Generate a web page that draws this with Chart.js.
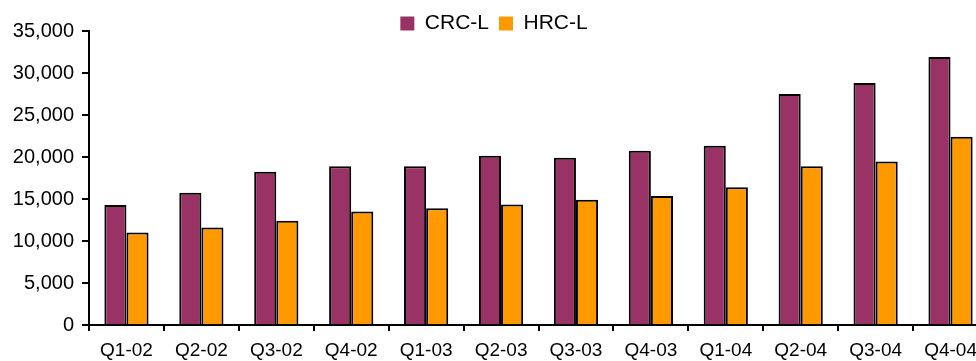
<!DOCTYPE html>
<html>
<head>
<meta charset="utf-8">
<script src="https://cdn.jsdelivr.net/npm/chart.js@4/dist/chart.umd.min.js"></script>
<style>
  html, body { margin: 0; padding: 0; background: #ffffff; overflow: hidden; }
  #wrap { position: relative; width: 1000px; height: 361px; }
</style>
</head>
<body>
<div id="wrap"><canvas id="c"></canvas></div>
<script>
const categories = ["Q1-02","Q2-02","Q3-02","Q4-02","Q1-03","Q2-03","Q3-03","Q4-03","Q1-04","Q2-04","Q3-04","Q4-04"];
const crcL = [14300, 15750, 18250, 18900, 18900, 20150, 19900, 20750, 21350, 27500, 28800, 31900];
const hrcL = [11000, 11600, 12400, 13500, 13900, 14350, 14900, 15350, 16400, 18900, 19450, 22400];
const seriesNames = ["CRC-L", "HRC-L"];
const yMin = 0, yMax = 35000, yStep = 5000;

const FONT = "'Liberation Sans', Arial, sans-serif";

const legendHeightFix = {
  id: 'legendHeightFix',
  afterInit(chart) {
    const lg = chart.legend;
    if (lg) {
      const orig = lg.fit;
      lg.fit = function () { orig.call(this); this.height = 28; };
    }
  }
};

new Chart(document.getElementById('c'), {
  type: 'bar',
  data: {
    labels: categories,
    datasets: [
      { label: seriesNames[0], data: crcL, backgroundColor: '#993366', borderColor: '#000000', borderWidth: 2, borderSkipped: 'bottom' },
      { label: seriesNames[1], data: hrcL, backgroundColor: '#FF9900', borderColor: '#000000', borderWidth: 2, borderSkipped: 'bottom' }
    ]
  },
  options: {
    responsive: true,
    maintainAspectRatio: false,
    animation: false,
    layout: { padding: { top: 3, right: 12, left: 0, bottom: 0 } },
    datasets: { bar: { categoryPercentage: 0.59, barPercentage: 1.0 } },
    plugins: {
      legend: {
        position: 'top',
        align: 'center',
        labels: {
          boxWidth: 14, boxHeight: 14, padding: 10,
          color: '#000000',
          font: { family: FONT, size: 21 },
          generateLabels(chart) {
            return chart.data.datasets.map((d, i) => ({
              text: d.label, fillStyle: d.backgroundColor, strokeStyle: d.backgroundColor,
              lineWidth: 0, hidden: false, datasetIndex: i, fontColor: '#000000'
            }));
          }
        }
      },
      tooltip: { enabled: false }
    },
    scales: {
      x: {
        offset: true,
        afterFit(s) { s.height = 36; },
        grid: { display: true, drawOnChartArea: false, drawTicks: true, tickLength: 6, color: '#000000', lineWidth: 2, offset: true },
        border: { display: true, color: '#000000', width: 2 },
        ticks: { color: '#000000', font: { family: FONT, size: 19 }, padding: 8, maxRotation: 0, autoSkip: false }
      },
      y: {
        min: yMin, max: yMax,
        afterFit(s) { s.width = 89; },
        grid: { display: true, drawOnChartArea: false, drawTicks: true, tickLength: 7, color: '#000000', lineWidth: 2 },
        border: { display: true, color: '#000000', width: 2 },
        ticks: {
          stepSize: yStep, color: '#000000', font: { family: FONT, size: 20 }, padding: 8,
          callback: (v) => Number(v).toLocaleString('en-US')
        }
      }
    }
  },
  plugins: [legendHeightFix]
});
</script>
</body>
</html>
